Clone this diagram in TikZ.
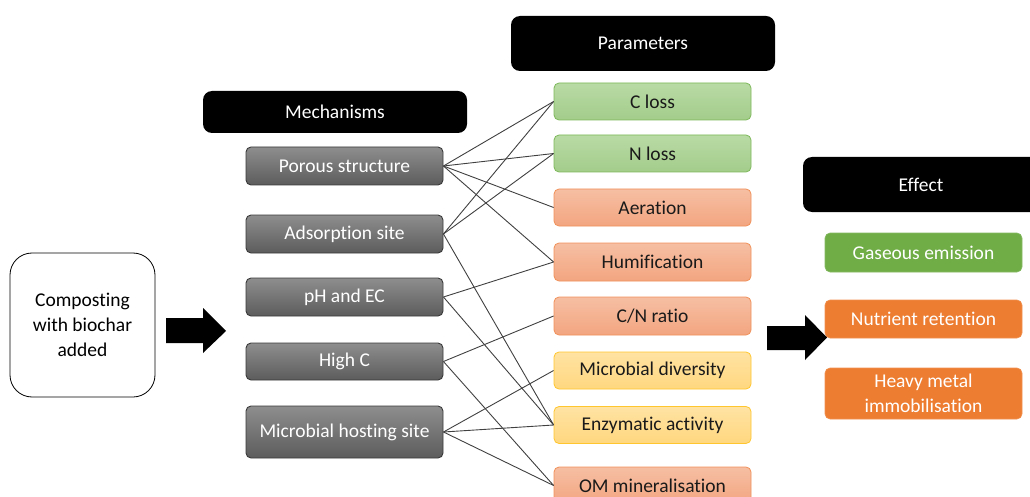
\documentclass[tikz,border=0pt]{standalone}
\usepackage{fontspec}
\setmainfont{Carlito}[Ligatures={NoCommon,NoContextual}]
\definecolor{linec}{HTML}{404040}
\definecolor{graytop}{HTML}{8E8E8E}
\definecolor{graybot}{HTML}{5C5C5C}
\definecolor{grayedge}{HTML}{3A3A3A}
\definecolor{greentop}{HTML}{B9DAA5}
\definecolor{greenbot}{HTML}{A3CD8B}
\definecolor{greenedge}{HTML}{7DB85A}
\definecolor{salmontop}{HTML}{F6BFA3}
\definecolor{salmonbot}{HTML}{F3A580}
\definecolor{salmonedge}{HTML}{F0915A}
\definecolor{yellowtop}{HTML}{FFE3A3}
\definecolor{yellowbot}{HTML}{FFD77F}
\definecolor{yellowedge}{HTML}{FFC62E}
\definecolor{effgreen}{HTML}{70AD47}
\definecolor{efforange}{HTML}{ED7D31}
\definecolor{txtdark}{HTML}{1A1A1A}
\tikzset{
  x=1pt, y=-1pt,
  every node/.style={font=\fontsize{19.5}{25}\selectfont, align=center, inner sep=0pt},
  header/.style={fill=black, rounded corners=9pt, text=white, minimum width=264pt},
  mech/.style={draw=grayedge, line width=0.9pt, top color=graytop, bottom color=graybot, rounded corners=5pt, text=white, minimum width=197pt, minimum height=38pt},
  greenbox/.style={draw=greenedge, line width=0.8pt, top color=greentop, bottom color=greenbot, rounded corners=5pt, text=txtdark, minimum width=197pt, minimum height=37pt},
  salmonbox/.style={draw=salmonedge, line width=0.8pt, top color=salmontop, bottom color=salmonbot, rounded corners=5pt, text=txtdark, minimum width=197pt, minimum height=37pt},
  yellowbox/.style={draw=yellowedge, line width=0.8pt, top color=yellowtop, bottom color=yellowbot, rounded corners=5pt, text=txtdark, minimum width=197pt, minimum height=37pt},
  effbox/.style={draw=#1!85!white, line width=0.6pt, fill=#1, rounded corners=5pt, text=white, minimum width=197pt},
  link/.style={draw=linec, line width=0.9pt},
  blockarrow/.style={fill=black}
}
\begin{document}
\begin{tikzpicture}
\useasboundingbox (0,0) rectangle (1030,497);
\clip (0,0) rectangle (1030,497);

% start box
\node[draw=black, line width=0.8pt, rounded corners=22pt, minimum width=145pt, minimum height=144pt, fill=white] (start) at (82.5,325) {Composting\\with biochar\\added};

% headers
\node[header, minimum height=42pt] (hmech) at (335,112) {Mechanisms};
\node[header, minimum height=55pt] (hpar) at (643,43.5) {Parameters};
\node[header, minimum height=55pt, minimum width=236pt] (heff) at (921,184.5) {Effect};

% mechanisms
\node[mech] (ps) at (344.5,166) {Porous structure};
\node[mech] (ad) at (344.5,234) {Adsorption site};
\node[mech] (ph) at (344.5,297) {pH and EC};
\node[mech, minimum height=37pt] (hc) at (344.5,361.5) {High C};
\node[mech, minimum height=52pt] (mh) at (344.5,432) {Microbial hosting site};

% parameters
\node[greenbox] (cl) at (652.5,101.5) {C loss};
\node[greenbox] (nl) at (652.5,153.5) {N loss};
\node[salmonbox] (ae) at (652.5,207.5) {Aeration};
\node[salmonbox, minimum height=38pt] (hu) at (652.5,262) {Humification};
\node[salmonbox, minimum height=38pt] (cn) at (652.5,316) {C/N ratio};
\node[yellowbox] (md) at (652.5,370.5) {Microbial diversity};
\node[yellowbox] (ea) at (652.5,425) {Enzymatic activity};
\node[salmonbox] (om) at (652.5,485.5) {OM mineralisation};

% effects
\node[effbox=effgreen, minimum height=39pt] (ge) at (923.5,252.5) {Gaseous emission};
\node[effbox=efforange, minimum height=38pt] (nr) at (923.5,319) {Nutrient retention};
\node[effbox=efforange, minimum height=51pt] (hm) at (923.5,393.5) {Heavy metal\\immobilisation};

% connectors
\draw[link] (ps.east) -- (cl.west);
\draw[link] (ps.east) -- (nl.west);
\draw[link] (ps.east) -- (ae.west);
\draw[link] (ps.east) -- (hu.west);
\draw[link] (ad.east) -- (cl.west);
\draw[link] (ad.east) -- (nl.west);
\draw[link] (ad.east) -- (ea.west);
\draw[link] (ph.east) -- (hu.west);
\draw[link] (ph.east) -- (ea.west);
\draw[link] (hc.east) -- (cn.west);
\draw[link] (hc.east) -- (om.west);
\draw[link] (mh.east) -- (md.west);
\draw[link] (mh.east) -- (ea.west);
\draw[link] (mh.east) -- (om.west);

% block arrows
\fill[blockarrow] (166,318) -- (203,318) -- (203,308) -- (226,331) -- (203,353) -- (203,343) -- (166,343) -- cycle;
\fill[blockarrow] (767,326) -- (805,326) -- (805,315) -- (827,337.5) -- (805,360) -- (805,350) -- (767,350) -- cycle;
\end{tikzpicture}
\end{document}
